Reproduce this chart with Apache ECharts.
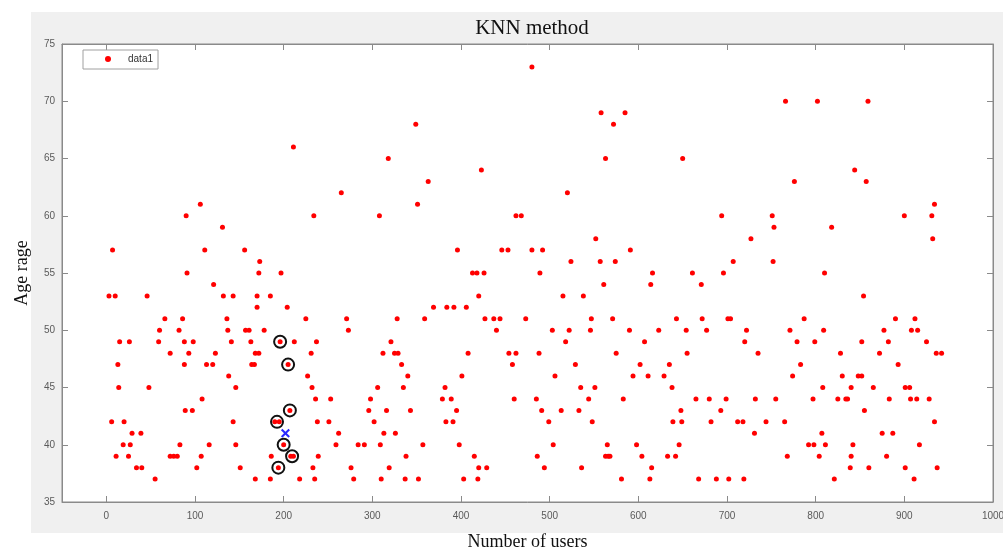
<!DOCTYPE html>
<html>
<head>
<meta charset="utf-8">
<script src="https://cdn.jsdelivr.net/npm/echarts@6/dist/echarts.min.js"></script>
<style>
  html, body { margin: 0; padding: 0; background: #ffffff; }
  #figbg { position: absolute; left: 31px; top: 12px; width: 972px; height: 521px; background: #f0f0f0; }
  #chart { position: absolute; left: 0; top: 0; width: 1003px; height: 549px; }
</style>
</head>
<body>
<div id="figbg"></div>
<div id="chart"></div>
<script>
// ---- data ----
const chartTitle = 'KNN method';
const xAxisName = 'Number of users';
const yAxisName = 'Age rage';
const seriesName = 'data1';
const xTicks = [0, 100, 200, 300, 400, 500, 600, 700, 800, 900, 1000];
const yTicks = [35, 40, 45, 50, 55, 60, 65, 70, 75];

// ages (y) and the user numbers (x) of the red points at each age
const dataAges = [73, 70, 69, 68, 66, 65, 64, 63, 62, 61, 60, 59, 58, 57, 56, 55, 54, 53, 52, 51, 50, 49, 48, 47, 46, 45, 44, 43, 42, 41, 40, 39, 38, 37];
const dataUsers = [
  [480],
  [766, 802, 859],
  [558, 585],
  [349, 572],
  [211],
  [318, 563, 650],
  [423, 844],
  [363, 776, 857],
  [265, 520],
  [106, 351, 934],
  [90, 234, 308, 462, 468, 694, 751, 900, 931],
  [131, 753, 818],
  [552, 727, 932],
  [7, 111, 156, 396, 446, 453, 480, 492, 591],
  [173, 524, 557, 574, 707, 752],
  [91, 172, 197, 413, 418, 426, 489, 616, 661, 696, 810],
  [121, 561, 614, 671],
  [3, 10, 46, 132, 143, 170, 185, 420, 515, 538, 854],
  [170, 204, 369, 384, 392, 406],
  [66, 86, 136, 225, 271, 328, 359, 427, 437, 444, 473, 547, 571, 643, 672, 701, 704, 787, 890, 912],
  [60, 82, 137, 157, 161, 178, 273, 440, 503, 522, 546, 590, 623, 654, 677, 722, 771, 809, 877, 908, 915],
  [15, 26, 59, 88, 98, 141, 163, 196, 212, 237, 321, 518, 607, 720, 779, 799, 852, 882, 925],
  [72, 93, 123, 168, 172, 231, 312, 325, 329, 408, 454, 462, 488, 575, 655, 735, 828, 872, 936, 942],
  [13, 88, 113, 120, 164, 167, 205, 333, 458, 529, 602, 635, 783, 893],
  [138, 227, 340, 401, 506, 594, 611, 629, 774, 830, 848, 852],
  [14, 48, 146, 232, 306, 335, 382, 535, 551, 638, 808, 840, 865, 901, 906],
  [108, 236, 253, 298, 379, 389, 460, 485, 544, 583, 665, 680, 699, 732, 755, 797, 825, 834, 836, 883, 907, 914, 928],
  [89, 97, 207, 296, 316, 343, 395, 491, 513, 533, 648, 693, 855],
  [6, 20, 143, 190, 195, 238, 251, 302, 383, 391, 499, 548, 639, 649, 682, 712, 718, 744, 765, 934],
  [29, 39, 262, 313, 326, 731, 807, 875, 887],
  [19, 27, 83, 116, 146, 200, 259, 284, 291, 309, 357, 398, 504, 565, 598, 646, 792, 798, 811, 842, 917],
  [11, 25, 72, 76, 80, 107, 186, 208, 211, 239, 338, 415, 486, 563, 566, 568, 604, 633, 642, 768, 804, 840, 880],
  [34, 40, 102, 151, 194, 233, 276, 319, 420, 429, 494, 536, 615, 839, 860, 901, 937],
  [55, 168, 185, 218, 235, 279, 310, 337, 352, 403, 419, 581, 613, 668, 688, 702, 719, 821, 911]
];

// the query point (blue x) and its 7 nearest neighbours (black rings)
const queryUser = [202];
const queryAge = [41];
const neighborUsers = [196, 205, 207, 192.5, 200, 209.5, 194];
const neighborAges = [49, 47, 43, 42, 40, 39, 38];

// ---- build series data ----
const points = [];
dataAges.forEach((age, i) => dataUsers[i].forEach(u => points.push([u, age])));
const neighbors = neighborUsers.map((u, i) => [u, neighborAges[i]]);
const query = queryUser.map((u, i) => [u, queryAge[i]]);

const axisColor = '#8a8a8a';
const labelColor = '#5a5a5a';
const plain = v => String(v);
const xCommon = {
  type: 'value', min: -50, max: 1000,
  axisLine: { show: true, onZero: false, lineStyle: { color: axisColor, width: 1 } },
  axisTick: { show: true, inside: true, length: 6, customValues: xTicks, lineStyle: { color: axisColor } },
  splitLine: { show: false }
};
const yCommon = {
  type: 'value', min: 35, max: 75, interval: 5,
  axisLine: { show: true, onZero: false, lineStyle: { color: axisColor, width: 1 } },
  axisTick: { show: true, inside: true, length: 6, customValues: yTicks, lineStyle: { color: axisColor } },
  splitLine: { show: false }
};

const chart = echarts.init(document.getElementById('chart'), null, { renderer: 'canvas' });
chart.setOption({
  backgroundColor: 'transparent',
  animation: false,
  title: {
    text: chartTitle, left: 527, top: 13, textAlign: 'center',
    textStyle: { fontFamily: 'Liberation Serif', fontSize: 21, fontWeight: 'normal', color: '#111' }
  },
  legend: {
    data: [seriesName], left: 83, top: 50, orient: 'vertical',
    backgroundColor: '#ffffff', borderColor: '#a0a0a0', borderWidth: 1,
    padding: [4, 5, 5, 22], itemWidth: 6, itemHeight: 6, icon: 'circle',
    textStyle: { fontFamily: 'Liberation Sans', fontSize: 10, color: '#333', padding: [0, 0, 0, 12] }
  },
  grid: {
    left: 62, right: 10, top: 44, bottom: 47, containLabel: false, outerBoundsMode: 'none',
    show: true, backgroundColor: '#ffffff', borderColor: axisColor, borderWidth: 1
  },
  xAxis: [
    Object.assign({}, xCommon, {
      position: 'bottom',
      name: xAxisName, nameLocation: 'middle', nameGap: 31,
      nameTextStyle: { fontFamily: 'Liberation Serif', fontSize: 18, color: '#111' },
      axisLabel: { show: true, customValues: xTicks, formatter: plain, margin: 9, fontFamily: 'Liberation Sans', fontSize: 10, color: labelColor }
    }),
    Object.assign({}, xCommon, { position: 'top', axisLabel: { show: false } })
  ],
  yAxis: [
    Object.assign({}, yCommon, {
      position: 'left',
      name: yAxisName, nameLocation: 'middle', nameGap: 31,
      nameTextStyle: { fontFamily: 'Liberation Serif', fontSize: 18, color: '#111' },
      axisLabel: { show: true, customValues: yTicks, formatter: plain, margin: 7, fontFamily: 'Liberation Sans', fontSize: 10, color: labelColor }
    }),
    Object.assign({}, yCommon, { position: 'right', axisLabel: { show: false } })
  ],
  series: [
    {
      name: seriesName, type: 'scatter', xAxisIndex: 0, yAxisIndex: 0,
      data: points, symbol: 'circle', symbolSize: 5,
      itemStyle: { color: '#ff0000', opacity: 1 }, z: 3
    },
    {
      name: 'neighbors', type: 'scatter', xAxisIndex: 0, yAxisIndex: 0,
      data: neighbors, symbol: 'circle', symbolSize: 12,
      itemStyle: { color: 'rgba(0,0,0,0)', borderColor: '#111111', borderWidth: 2, opacity: 1 }, z: 4
    },
    {
      name: 'query', type: 'scatter', xAxisIndex: 0, yAxisIndex: 0,
      data: query,
      symbol: 'path://M0,0.16 L0.16,0 L0.5,0.34 L0.84,0 L1,0.16 L0.66,0.5 L1,0.84 L0.84,1 L0.5,0.66 L0.16,1 L0,0.84 L0.34,0.5 Z',
      symbolSize: 9, itemStyle: { color: '#2a2aff', opacity: 1 }, z: 5
    }
  ]
});
</script>
</body>
</html>
